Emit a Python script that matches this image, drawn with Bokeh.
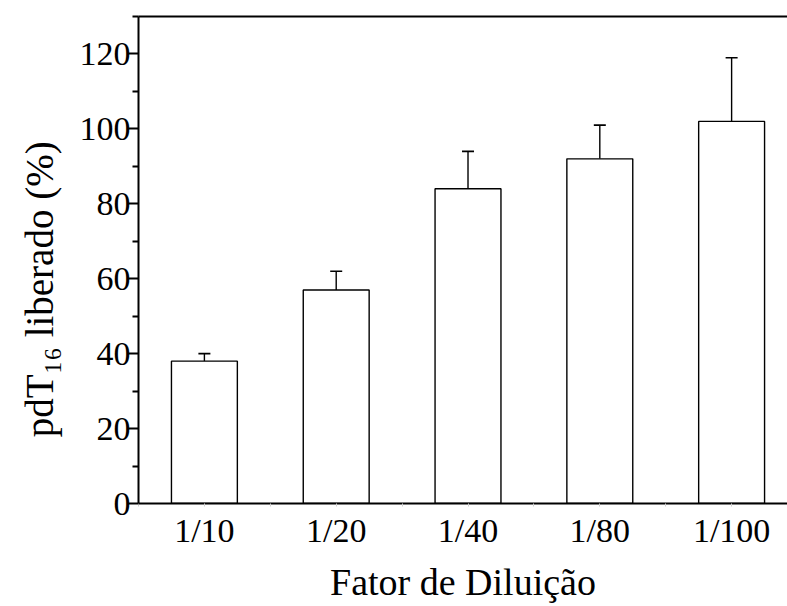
from bokeh.plotting import figure
from bokeh.models import (ColumnDataSource, FixedTicker, LinearAxis, Range1d,
                          Whisker, TeeHead)
from bokeh.embed import file_html
from bokeh.resources import INLINE

# ---- data ----
categories = ["1/10", "1/20", "1/40", "1/80", "1/100"]
positions = [1, 2, 3, 4, 5]
values = [38, 57, 84, 92, 102]
errors = [2, 5, 10, 9, 17]
y_ticks = [0, 20, 40, 60, 80, 100, 120]
y_minor = [10, 30, 50, 70, 90, 110, 130]
x_minor = [0.5, 1.5, 2.5, 3.5, 4.5, 5.5]

FONT = "Liberation Serif"

upper = [v + e for v, e in zip(values, errors)]
src = ColumnDataSource(dict(x=positions, top=values, upper=upper, lab=categories))

p = figure(width=787, height=606, output_backend="svg", toolbar_location=None,
           x_range=Range1d(0.5, 5.424), y_range=Range1d(0, 130),
           min_border_left=138, min_border_right=0, min_border_top=16,
           min_border_bottom=103, x_axis_location=None, y_axis_location=None)
p.outline_line_color = None
p.grid.visible = False
p.background_fill_color = "white"
p.border_fill_color = "white"

p.vbar(x="x", top="top", width=0.5, bottom=0, source=src,
       fill_color="white", line_color="black", line_width=1.4)

wh = Whisker(base="x", lower="top", upper="upper", source=src,
             line_color="black", line_width=1.4,
             upper_head=TeeHead(size=12, line_color="black", line_width=1.6),
             lower_head=None)
p.add_layout(wh)

# left axis
yax = LinearAxis(ticker=FixedTicker(ticks=y_ticks, minor_ticks=y_minor))
yax.axis_line_width = 2
yax.major_tick_line_width = 2
yax.minor_tick_line_width = 2
yax.major_tick_out = 11
yax.major_tick_in = 0
yax.minor_tick_out = 6
yax.minor_tick_in = 0
yax.major_label_text_font = FONT
yax.major_label_text_font_size = "34px"
yax.major_label_text_color = "black"
yax.major_label_standoff = -3
yax.axis_label = "pdT\u2081\u2086 liberado (%)" + "\u00a0" * 6
yax.axis_label_text_font = FONT
yax.axis_label_text_font_size = "39px"
yax.axis_label_text_font_style = "normal"
yax.axis_label_text_color = "black"
yax.axis_label_standoff = 16
p.add_layout(yax, "left")

# bottom axis
xax = LinearAxis(ticker=FixedTicker(ticks=positions, minor_ticks=x_minor))
xax.major_label_overrides = {pos: lab for pos, lab in zip(positions, categories)}
xax.axis_line_width = 2
xax.major_tick_line_color = "#cfcfcf"
xax.minor_tick_line_color = "#cfcfcf"
xax.major_tick_out = 3
xax.major_tick_in = 0
xax.minor_tick_out = 3
xax.minor_tick_in = 0
xax.major_label_text_font = FONT
xax.major_label_text_font_size = "34px"
xax.major_label_text_color = "black"
xax.major_label_standoff = 5
xax.axis_label = "Fator de Diluição"
xax.axis_label_text_font = FONT
xax.axis_label_text_font_size = "38px"
xax.axis_label_text_font_style = "normal"
xax.axis_label_text_color = "black"
xax.axis_label_standoff = 9
p.add_layout(xax, "below")

# top line
tax = LinearAxis(ticker=FixedTicker(ticks=[]))
tax.axis_line_width = 2
tax.major_tick_out = 0
tax.minor_tick_out = 0
tax.major_label_text_font_size = "0px"
p.add_layout(tax, "above")

open("out.html", "w").write(file_html(p, INLINE))
